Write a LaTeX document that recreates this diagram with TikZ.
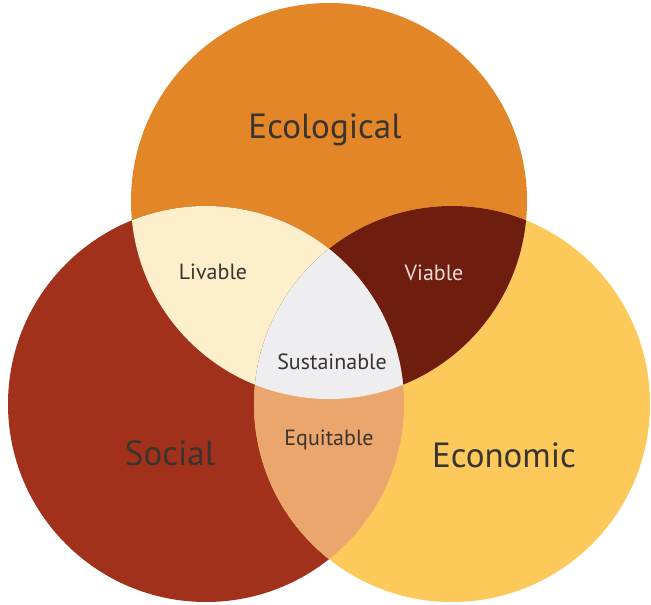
\documentclass[tikz,border=0pt]{standalone}
\usepackage{fontspec}
\setmainfont{PT Sans}
\definecolor{ecoC}{RGB}{227,134,39}
\definecolor{socC}{RGB}{162,49,28}
\definecolor{ecnC}{RGB}{253,201,90}
\definecolor{livC}{RGB}{253,239,203}
\definecolor{viaC}{RGB}{110,29,15}
\definecolor{susC}{RGB}{238,238,240}
\definecolor{equC}{RGB}{235,166,110}
\definecolor{txtC}{RGB}{58,52,46}
\definecolor{vtxtC}{RGB}{236,218,212}
\tikzset{
  biglabel/.style={text=txtC, font=\fontsize{35}{40}\selectfont, inner sep=0pt},
  smalllabel/.style={text=txtC, font=\fontsize{22}{26}\selectfont, inner sep=0pt},
}
\begin{document}
\begin{tikzpicture}[x=1pt,y=-1pt]
\useasboundingbox (0,0) rectangle (651,605);
\fill[white] (0,0) rectangle (651,605);
\coordinate (E) at (329,201);
\coordinate (S) at (206,404);
\coordinate (C) at (452,404);
\def\R{198pt}
% base circles
\fill[ecoC] (E) circle[radius=\R];
\fill[socC] (S) circle[radius=\R];
\fill[ecnC] (C) circle[radius=\R];
% Livable
\begin{scope}
  \clip (S) circle[radius=\R];
  \fill[livC] (E) circle[radius=\R];
\end{scope}
% Viable
\begin{scope}
  \clip (C) circle[radius=\R];
  \fill[viaC] (E) circle[radius=\R];
\end{scope}
% Equitable
\begin{scope}
  \clip (S) circle[radius=\R];
  \fill[equC] (C) circle[radius=\R];
\end{scope}
% Sustainable
\begin{scope}
  \clip (S) circle[radius=\R];
  \clip (C) circle[radius=\R];
  \fill[susC] (E) circle[radius=\R];
\end{scope}
% labels
\node[biglabel] (ecol) at (325,130) {Ecological};
\node[biglabel] (soc) at (170,453) {Social};
\node[biglabel] (econ) at (504,455) {Economic};
\node[smalllabel] (liv) at (213,272) {Livable};
\node[smalllabel, text=vtxtC] (via) at (434,273) {Viable};
\node[smalllabel] (sus) at (332,362) {Sustainable};
\node[smalllabel] (equ) at (329,440) {Equitable};
\end{tikzpicture}
\end{document}
